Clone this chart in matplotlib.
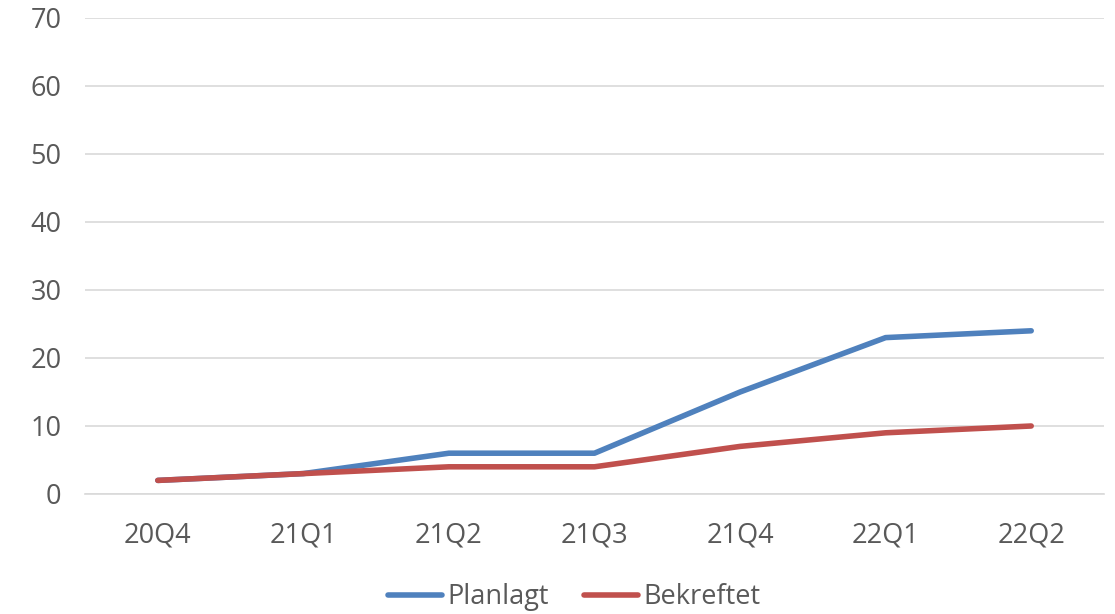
import matplotlib
matplotlib.use("Agg")
import matplotlib.pyplot as plt
import numpy as np

quarters = ["20Q4", "21Q1", "21Q2", "21Q3", "21Q4", "22Q1", "22Q2"]
planlagt = [2, 3, 6, 6, 15, 23, 24]
bekreftet = [2, 3, 4, 4, 7, 9, 10]

plt.rcParams['font.family'] = ['Open Sans', 'DejaVu Sans']

fig = plt.figure(figsize=(11.15, 6.14), dpi=100)
ax = fig.add_axes([85/1115, 1 - 494/614, (1104 - 85)/1115, (494 - 18)/614])

x = np.arange(len(quarters))
ax.plot(x, planlagt, color="#4F81BD", lw=4, label="Planlagt", solid_capstyle="round")
ax.plot(x, bekreftet, color="#C0504D", lw=4, label="Bekreftet", solid_capstyle="round")

ax.set_xlim(-0.5, len(quarters) - 0.5)
ax.set_ylim(0, 70)
ax.set_yticks(range(0, 71, 10))
ax.set_xticks(x)
ax.set_xticklabels(quarters)
ax.grid(axis="y", color="#D9D9D9", lw=1.2)
ax.set_axisbelow(True)
for s in ["top", "right", "left"]:
    ax.spines[s].set_visible(False)
ax.spines["bottom"].set_color("#D9D9D9")
ax.spines["bottom"].set_linewidth(1.2)
ax.tick_params(axis="both", length=0, labelsize=19.5, colors="#595959")
ax.tick_params(axis="x", pad=20)
ax.tick_params(axis="y", pad=17)

leg = fig.legend(loc="lower center", bbox_to_anchor=(0.515, -0.035), ncol=2, frameon=False,
                 fontsize=19.5, handlelength=2.0, columnspacing=1.3, handletextpad=0.2)
for t in leg.get_texts():
    t.set_color("#595959")

fig.savefig("out.png", dpi=100)
